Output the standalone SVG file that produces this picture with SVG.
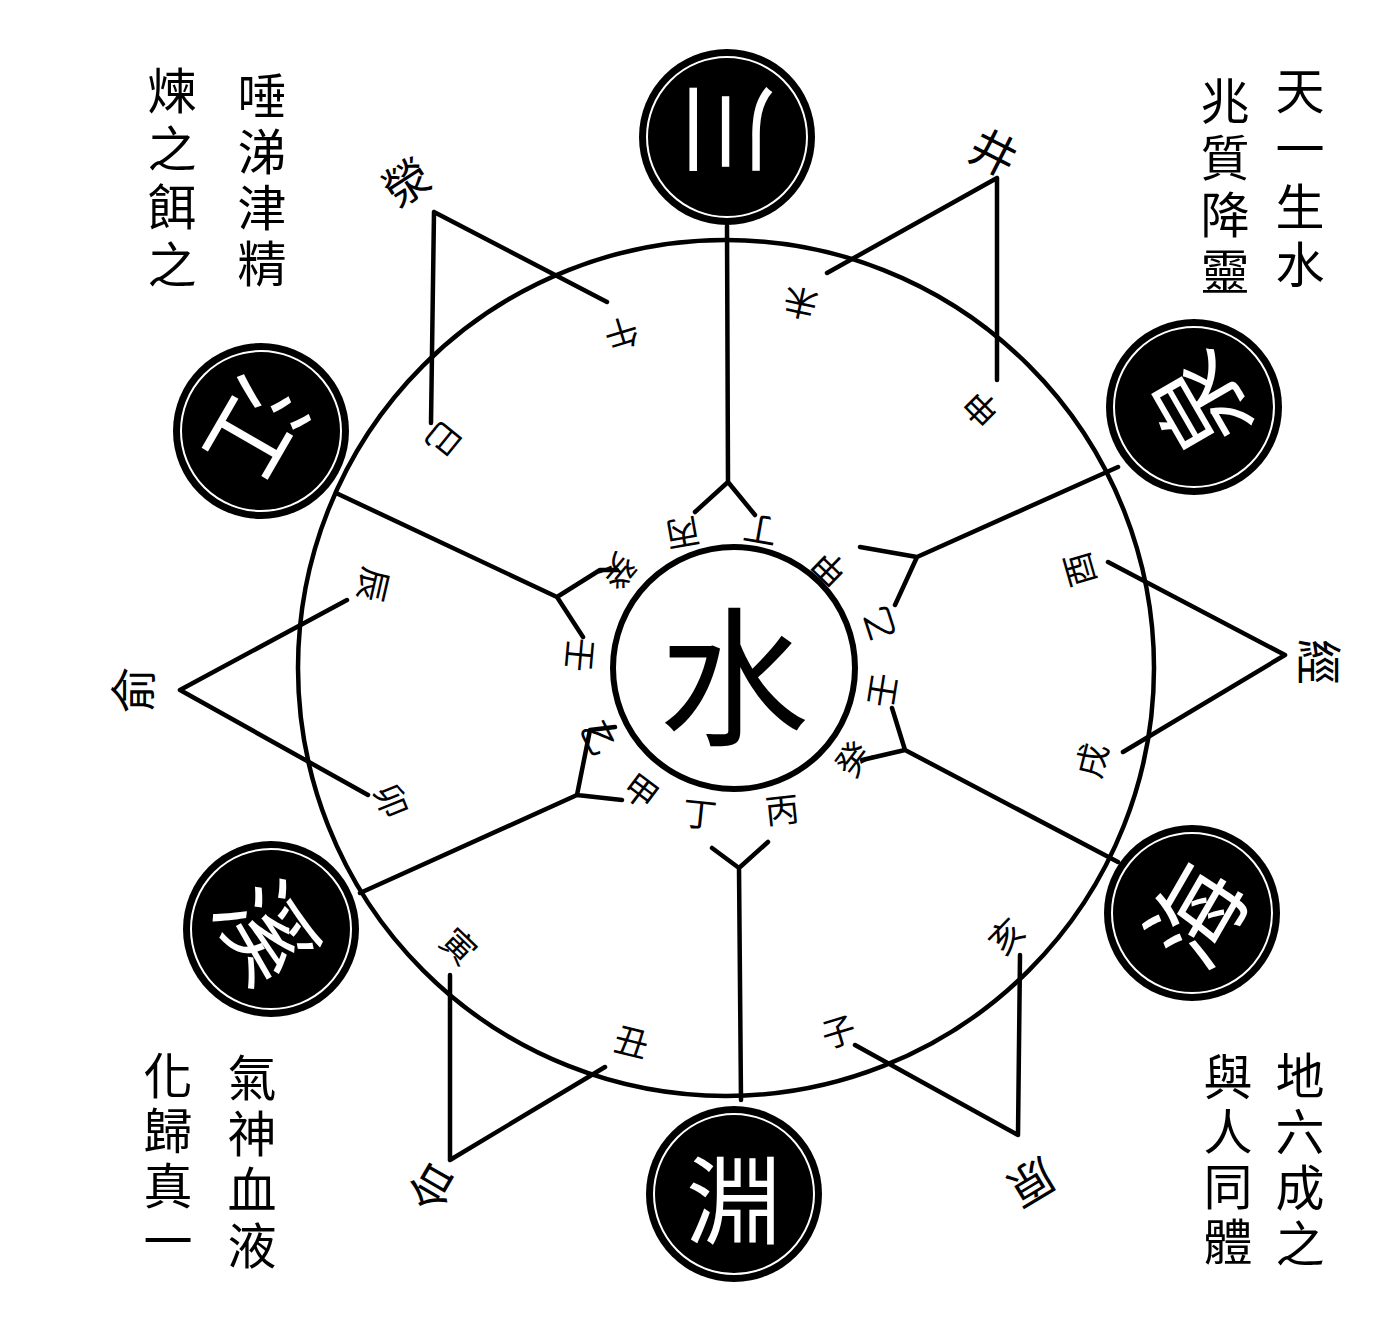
<svg xmlns="http://www.w3.org/2000/svg" width="1388" height="1333" viewBox="0 0 1388 1333">
<style>
text{font-family:"Noto Sans CJK TC","Noto Sans CJK SC",sans-serif;fill:#000;text-anchor:middle;dominant-baseline:central}
.col{font-size:49px;writing-mode:vertical-rl;text-anchor:start}
.br{font-size:34px}
.fk{font-size:34px}
.ap{font-size:46px}
.bc{font-size:96px;fill:#fff}
.ln{stroke:#000;stroke-width:4.5;fill:none;stroke-linecap:round;stroke-linejoin:round}
.ring{fill:none;stroke:#000;stroke-width:4.5}
.inner{fill:#fff;stroke:#000;stroke-width:6}
.bo{fill:#000}
.bw{fill:none;stroke:#fff;stroke-width:2}
</style>
<rect width="1388" height="1333" fill="#fff"/>
<circle class="ring" cx="726" cy="668" r="428"/>
<g id="connectors">
<path class="ln" d="M434,212 L607,302 M434,212 L431,423"/>
<path class="ln" d="M997,178 L827,273 M997,178 L997,380"/>
<path class="ln" d="M1285,655 L1108,562 M1285,655 L1123,752"/>
<path class="ln" d="M1018,1135 L1020,955 M1018,1135 L855,1045"/>
<path class="ln" d="M450,1160 L450,975 M450,1160 L605,1067"/>
<path class="ln" d="M180,690 L347,600 M180,690 L368,795"/>
<path class="ln" d="M727,226 L728,482 L695,512 M728,482 L755,515"/>
<path class="ln" d="M741,1100 L739,868 L712,848 M739,868 L768,842"/>
<path class="ln" d="M1118,467 L917,557 L860,547 M917,557 L895,605"/>
<path class="ln" d="M1118,862 L905,750 L862,760 M905,750 L892,708"/>
<path class="ln" d="M360,893 L577,795 L622,800 M577,795 L590,730 L615,727"/>
<path class="ln" d="M336,493 L557,597 L600,570 L617,570 M557,597 L583,637"/>
</g>
<g id="center"><circle class="inner" cx="734" cy="668" r="121"/><text x="734" y="668" style="font-size:150px">水</text></g>
<g id="circle-top"><circle class="bo" cx="727" cy="137" r="88"/><circle class="bw" cx="727" cy="137" r="80"/><text class="bc" transform="translate(727,137) rotate(180)">川</text></g>
<g id="circle-ur"><circle class="bo" cx="1194" cy="407" r="88"/><circle class="bw" cx="1194" cy="407" r="80"/><text class="bc" transform="translate(1194,407) rotate(-120)">泉</text></g>
<g id="circle-lr"><circle class="bo" cx="1192" cy="913" r="88"/><circle class="bw" cx="1192" cy="913" r="80"/><text class="bc" transform="translate(1192,913) rotate(-60)">海</text></g>
<g id="circle-bottom"><circle class="bo" cx="734" cy="1194" r="88"/><circle class="bw" cx="734" cy="1194" r="80"/><text class="bc" x="734" y="1194">淵</text></g>
<g id="circle-ll"><circle class="bo" cx="271" cy="929" r="88"/><circle class="bw" cx="271" cy="929" r="80"/><text class="bc" transform="translate(271,929) rotate(60)">溪</text></g>
<g id="circle-ul"><circle class="bo" cx="261" cy="431" r="88"/><circle class="bw" cx="261" cy="431" r="80"/><text class="bc" transform="translate(261,431) rotate(120)">江</text></g>
<g id="branches">
<text class="br" transform="translate(838,1030) rotate(-17)">子</text>
<text class="br" transform="translate(632,1040) rotate(14)">丑</text>
<text class="br" transform="translate(460,945) rotate(44)">寅</text>
<text class="br" transform="translate(393,800) rotate(68)">卯</text>
<text class="br" transform="translate(375,585) rotate(103)">辰</text>
<text class="br" transform="translate(445,440) rotate(129)">巳</text>
<text class="br" transform="translate(622,335) rotate(163)">午</text>
<text class="br" transform="translate(800,305) rotate(192)">未</text>
<text class="br" transform="translate(980,410) rotate(-135)">申</text>
<text class="br" transform="translate(1078,570) rotate(-106)">酉</text>
<text class="br" transform="translate(1090,760) rotate(-76)">戌</text>
<text class="br" transform="translate(1005,935) rotate(-46)">亥</text>
</g>
<g id="stems">
<text class="fk" transform="translate(683,535) rotate(170)">丙</text>
<text class="fk" transform="translate(760,532) rotate(190)">丁</text>
<text class="fk" transform="translate(700,812) rotate(6)">丁</text>
<text class="fk" transform="translate(782,808) rotate(-6)">丙</text>
<text class="fk" transform="translate(828,570) rotate(-136)">甲</text>
<text class="fk" transform="translate(877,624) rotate(-108)">乙</text>
<text class="fk" transform="translate(880,690) rotate(-81)">壬</text>
<text class="fk" transform="translate(852,758) rotate(-53)">癸</text>
<text class="fk" transform="translate(620,572) rotate(130)">癸</text>
<text class="fk" transform="translate(582,655) rotate(95)">壬</text>
<text class="fk" transform="translate(600,737) rotate(63)">乙</text>
<text class="fk" transform="translate(642,790) rotate(37)">甲</text>
</g>
<g id="apex">
<text class="ap" transform="translate(405,180) rotate(-33)">滎</text>
<text class="ap" transform="translate(995,150) rotate(27)">井</text>
<text class="ap" transform="translate(1322,662) rotate(90)">經</text>
<text class="ap" transform="translate(1033,1185) rotate(149)">原</text>
<text class="ap" transform="translate(430,1190) rotate(-150)">合</text>
<text class="ap" transform="translate(130,690) rotate(-90)">俞</text>
</g>
<g id="verses">
<text class="col" x="1300" y="66" style="letter-spacing:9px">天一生水</text>
<text class="col" x="1225" y="76" style="letter-spacing:8px">兆質降靈</text>
<text class="col" x="262" y="71" style="letter-spacing:7px">唾涕津精</text>
<text class="col" x="172" y="66" style="letter-spacing:9px">煉之餌之</text>
<text class="col" x="1300" y="1051" style="letter-spacing:7px">地六成之</text>
<text class="col" x="1228" y="1052" style="letter-spacing:6px">與人同體</text>
<text class="col" x="252" y="1053" style="letter-spacing:7px">氣神血液</text>
<text class="col" x="168" y="1051" style="letter-spacing:6px">化歸真一</text>
</g>
</svg>
